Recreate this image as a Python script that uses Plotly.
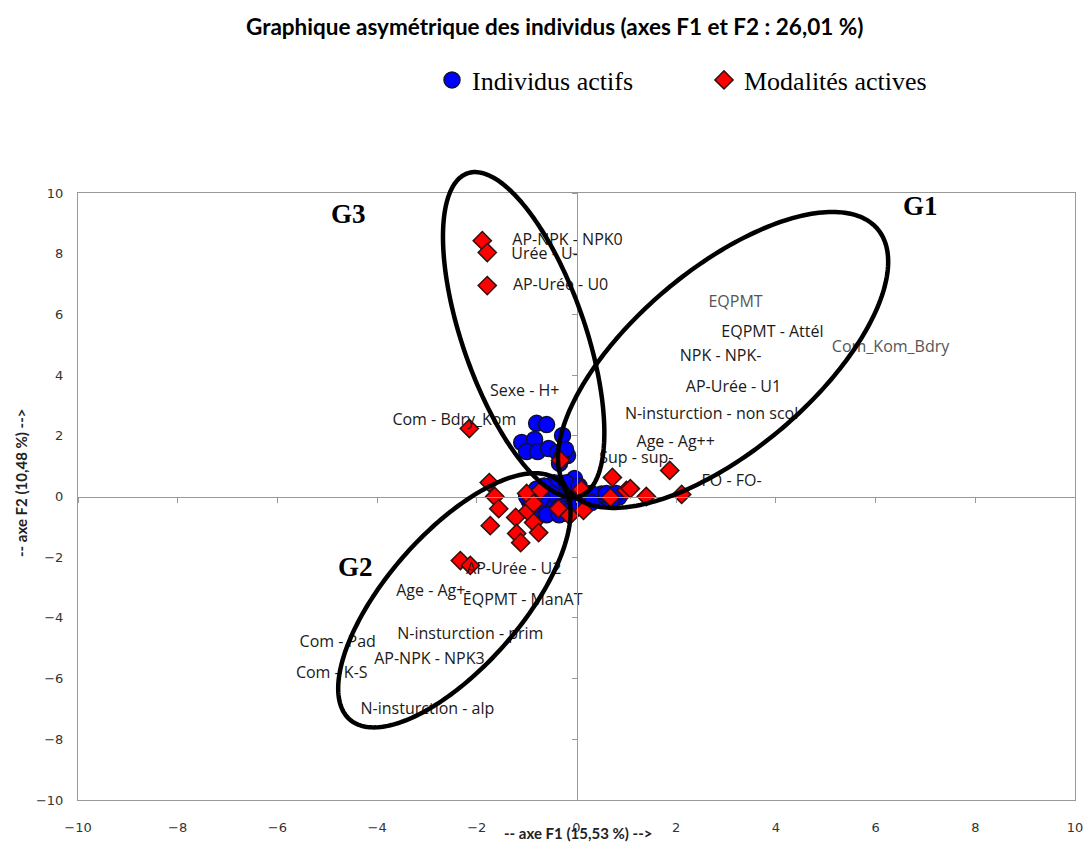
import numpy as np
import plotly.graph_objects as go

# ---------------- data (F1, F2 coordinates) ----------------
ind_x = [-0.80, -0.60, -0.28, -1.10, -0.84, -1.00, -0.78, -0.56, -0.38, -0.18, -0.34, -0.30, -0.22,
         -0.95, -0.90, -0.85, -0.78, -0.72, -0.70, -0.65, -0.60, -0.58, -0.55, -0.50, -0.45, -0.42,
         -0.40, -0.35, -0.30, -0.28, -0.25, -0.20, -0.15, -0.12, -0.10, -0.05, 0.00, -0.04, 0.05,
         0.10, 0.15, 0.20, -0.45, -0.65, 0.25, 0.35, 0.45, 0.55, 0.65, 0.75, 0.85, 0.50, 0.30,
         -0.90, -0.60, -0.35, -0.80, -0.50, -0.20, 0.05, -1.00, -0.70, 0.30, 0.60, 0.80, 0.70]
ind_y = [2.41, 2.37, 2.01, 1.78, 1.88, 1.48, 1.48, 1.58, 1.45, 1.35, 1.09, 1.30, 1.55,
         -0.15, -0.35, 0.05, -0.45, -0.20, 0.15, -0.55, -0.30, 0.00, 0.25, -0.45, -0.15, 0.10,
         0.35, -0.35, -0.05, 0.20, -0.55, -0.25, 0.05, 0.30, -0.40, -0.10, 0.15, 0.59, -0.30,
         0.05, -0.15, 0.10, 0.45, 0.35, -0.05, 0.00, -0.08, 0.02, -0.05, 0.00, -0.02, 0.08, 0.10,
         -0.50, -0.60, -0.60, 0.25, 0.10, 0.45, 0.35, 0.00, -0.05, -0.20, 0.10, 0.10, -0.15]

mod_x = [-1.89, -1.79, -1.79, -2.15, -1.75, -1.64, -1.56, -1.73, -1.22, -1.20, -1.12, -1.00,
         -0.98, -0.86, -0.86, -0.76, -0.72, -0.36, -0.32, -0.14, 0.10, 0.14, 0.72, 0.68,
         1.00, 1.08, 1.40, 1.87, 2.11, -2.33, -2.13]
mod_y = [8.43, 8.04, 6.95, 2.24, 0.46, 0.00, -0.40, -0.96, -0.69, -1.22, -1.52, 0.10,
         -0.49, -0.23, -0.86, -1.19, 0.20, -0.40, 1.19, -0.63, 0.23, -0.46, 0.63, -0.03,
         0.20, 0.26, 0.00, 0.86, 0.07, -2.11, -2.27]

lab_text = ["AP-NPK - NPK0", "Urée - U-", "AP-Urée - U0", "Sexe - H+", "Com - Bdry_Kom",
            "EQPMT", "EQPMT - Attél", "Com_Kom_Bdry", "NPK - NPK-", "AP-Urée - U1",
            "N-insturction - non scol", "Age - Ag++", "Sup - sup-", "FO - FO-",
            "AP-Urée - U2", "Age - Ag+-", "EQPMT - ManAT", "N-insturction - prim",
            "Com - Pad", "AP-NPK - NPK3", "Com - K-S", "N-insturction - alp"]
lab_x = [-0.18, -0.64, -0.32, -1.04, -2.45, 3.19, 3.93, 6.30, 2.89, 3.15, 2.71, 1.99, 1.20, 3.11,
         -1.26, -2.87, -1.08, -2.13, -4.79, -2.95, -4.91, -2.99]
lab_y = [8.43, 7.97, 6.95, 3.43, 2.50, 6.36, 5.40, 4.88, 4.61, 3.56, 2.70, 1.75, 1.22, 0.49,
         -2.41, -3.13, -3.43, -4.55, -4.84, -5.40, -5.86, -7.02]
lab_color = ["#1a1a1a"] * len(lab_text)
lab_color[5] = "#555555"
lab_color[7] = "#555555"

# group outlines: centre (F1, F2), semi-axes (px), rotation (deg, screen)
grp_name = ["G1", "G2", "G3"]
grp_cx = [2.94, -2.45, -1.06]
grp_cy = [4.50, -3.42, 5.33]
grp_a = [202.5, 158.6, 170.9]
grp_b = [90.3, 67.1, 61.3]
grp_ang = [139.7, -48.7, -109.2]

# ---------------- layout geometry ----------------
W, H = 1087, 842
ML, MR, MT, MB = 78, 12, 193, 42
PW, PH = W - ML - MR, H - MT - MB


def px_x(v):
    return ML + (v + 10) / 20 * PW


def px_y(v):
    return MT + (10 - v) / 20 * PH


def pap_x(p):
    return (p - ML) / PW


def pap_y(p):
    return (MT + PH - p) / PH


shapes = []
t = np.linspace(0, 2 * np.pi, 240)
for cxd, cyd, a, b, ang in zip(grp_cx, grp_cy, grp_a, grp_b, grp_ang):
    cx, cy = px_x(cxd), px_y(cyd)
    th = np.radians(ang)
    px = cx + a * np.cos(t) * np.cos(th) - b * np.sin(t) * np.sin(th)
    py = cy + a * np.cos(t) * np.sin(th) + b * np.sin(t) * np.cos(th)
    path = "M " + " L ".join(f"{pap_x(u):.5f},{pap_y(v):.5f}" for u, v in zip(px, py)) + " Z"
    shapes.append(dict(type="path", xref="paper", yref="paper", path=path,
                       line=dict(color="black", width=4.5), layer="above"))

fig = go.Figure()
fig.add_trace(go.Scatter(x=ind_x, y=ind_y, mode="markers", name="Individus actifs",
                         marker=dict(symbol="circle", size=16, color="#0000FF",
                                     line=dict(color="#101030", width=1.5))))
fig.add_trace(go.Scatter(x=mod_x, y=mod_y, mode="markers", name="Modalités actives",
                         marker=dict(symbol="diamond", size=14, color="#FF0000",
                                     line=dict(color="#301010", width=1.5))))
fig.add_trace(go.Scatter(x=lab_x, y=lab_y, mode="text", text=lab_text, showlegend=False,
                         textposition="middle center", hoverinfo="skip",
                         textfont=dict(family="Open Sans", size=16, color=lab_color)))
fig.add_trace(go.Scatter(x=[0], y=[0], xaxis="x2", yaxis="y2", mode="markers",
                         marker=dict(opacity=0), showlegend=False, hoverinfo="skip"))

axis_common = dict(range=[-10, 10], dtick=2, showgrid=False, zeroline=False, automargin=False,
                   showline=True, mirror=True, linecolor="#999999", linewidth=1,
                   ticks="", tickfont=dict(family="DejaVu Sans", size=13, color="#333333"))
free_common = dict(range=[-10, 10], dtick=2, anchor="free", position=0.5, automargin=False,
                   showline=True, linecolor="#999999", linewidth=1, ticks="outside", ticklen=5,
                   tickcolor="#999999", showticklabels=False, showgrid=False, zeroline=False)


def note(text, x, y, size, family="Lato", color="black", angle=0):
    return dict(text=text, xref="paper", yref="paper", x=pap_x(x), y=pap_y(y),
                xanchor="center", yanchor="middle", showarrow=False, textangle=angle,
                font=dict(family=family, size=size, color=color))


fig.update_layout(
    width=W, height=H, plot_bgcolor="white", paper_bgcolor="white",
    margin=dict(l=ML, r=MR, t=MT, b=MB),
    xaxis=dict(**axis_common, ticklabelstandoff=15),
    yaxis=dict(**axis_common, ticklabelstandoff=11),
    xaxis2=dict(**free_common, overlaying="x"),
    yaxis2=dict(**free_common, overlaying="y", side="left"),
    legend=dict(orientation="h", x=pap_x(432), xanchor="left", y=pap_y(80),
                yanchor="middle", font=dict(family="Liberation Serif", size=26, color="black"),
                entrywidth=227, itemwidth=30),
    shapes=shapes,
    annotations=[
        note("<b>Graphique asymétrique des individus (axes F1 et F2 : 26,01 %)</b>",
             554, 26, 22.5),
        note("<b>-- axe F1 (15,53 %) --></b>", 578, 833, 15, color="#222"),
        note("<b>-- axe F2 (10,48 %) --></b>", 21, 483, 15, color="#222", angle=-90),
        note("<b>G3</b>", 348, 214, 27, family="Liberation Serif"),
        note("<b>G1</b>", 920, 206, 27, family="Liberation Serif"),
        note("<b>G2</b>", 355, 567, 27, family="Liberation Serif"),
    ],
)
fig.write_html("out.html", config={"displayModeBar": False},
               post_script="document.body.style.margin='0';document.body.style.padding='0';")
